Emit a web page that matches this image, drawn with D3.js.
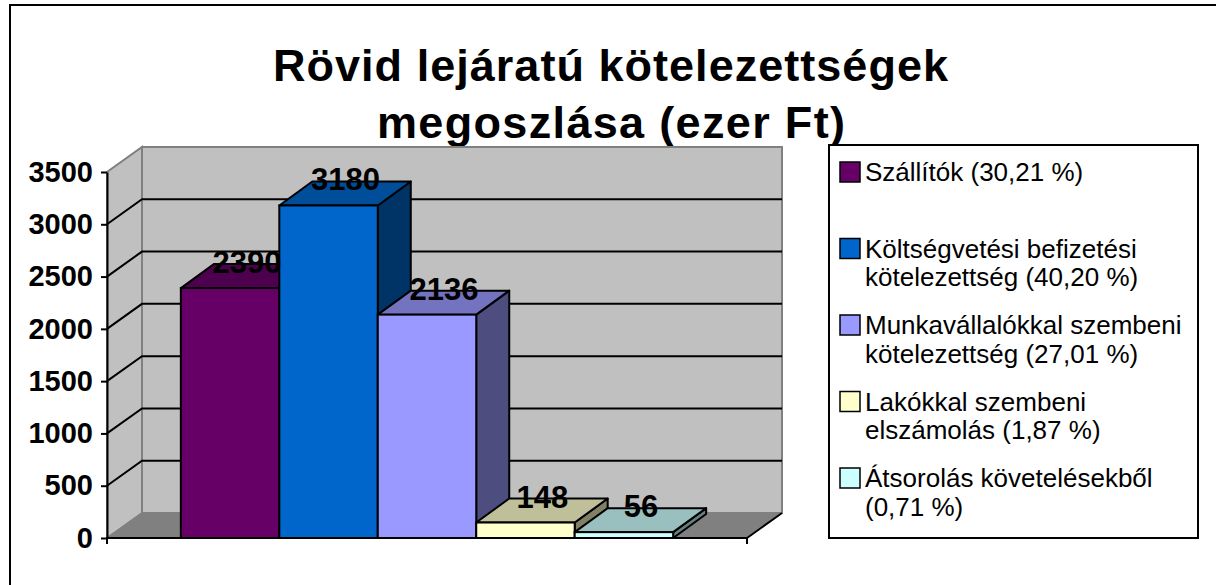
<!DOCTYPE html>
<html>
<head>
<meta charset="utf-8">
<script src="https://cdn.jsdelivr.net/npm/d3@7"></script>
<style>
  body { margin: 0; background: #fff; }
  text { font-family: "Liberation Sans", Arial, sans-serif; }
</style>
</head>
<body>
<div id="chart"></div>
<script>
// chart data
const categories = [
  "Szállítók",
  "Költségvetési befizetési kötelezettség",
  "Munkavállalókkal szembeni kötelezettség",
  "Lakókkal szembeni elszámolás",
  "Átsorolás követelésekből",
];
const values = [2390, 3180, 2136, 148, 56];
const percents = ["30,21", "40,20", "27,01", "1,87", "0,71"];
const colors = ["#660066", "#0066cc", "#9999ff", "#ffffcc", "#ccffff"];
const yTicks = [0, 500, 1000, 1500, 2000, 2500, 3000, 3500];
const titleLines = ["Rövid lejáratú kötelezettségek", "megoszlása (ezer Ft)"];

const W = 1216, H = 585;

// 3d depth offsets
const wallDx = 35, wallDy = 25;
const barDx = 33, barDy = 24;

const svg = d3
  .select("#chart")
  .append("svg")
  .attr("width", W)
  .attr("height", H);

// outer frame (cut off at right / bottom like the original)
svg.append("rect")
  .attr("x", 10).attr("y", 5)
  .attr("width", W + 20).attr("height", H + 20)
  .attr("fill", "#fff")
  .attr("stroke", "#000")
  .attr("stroke-width", 2);

// title
const titleSpans = [
  { x: 273, y: 81, len: 675 },
  { x: 377, y: 138, len: 468 },
];
svg.append("g")
  .selectAll("text")
  .data(titleLines)
  .enter()
  .append("text")
  .attr("x", (d, i) => titleSpans[i].x)
  .attr("y", (d, i) => titleSpans[i].y)
  .attr("textLength", (d, i) => titleSpans[i].len)
  .attr("lengthAdjust", "spacing")
  .style("font-size", "45px")
  .style("font-weight", "bold")
  .text((d) => d);

// scales
let x = d3.scaleBand()
  .domain(categories)
  .range([107, 747])
  .paddingInner(0)
  .paddingOuter(0.75);
let y = d3.scaleLinear().domain([0, 3500]).range([538, 172]);

const x0 = x.range()[0], x1 = x.range()[1];
const yb = y(0), yt = y(3500);

const plot = svg.append("g");

// side wall
plot.append("polygon")
  .attr("points", [[x0, yb], [x0 + wallDx, yb - wallDy], [x0 + wallDx, yt - wallDy], [x0, yt]].join(" "))
  .attr("fill", "#c0c0c0")
  .attr("stroke", "#808080")
  .attr("stroke-width", 2);

// back wall
plot.append("rect")
  .attr("x", x0 + wallDx)
  .attr("y", yt - wallDy)
  .attr("width", x1 - x0)
  .attr("height", yb - yt)
  .attr("fill", "#c0c0c0")
  .attr("stroke", "#808080")
  .attr("stroke-width", 2);

// floor
plot.append("polygon")
  .attr("points", [[x0, yb], [x1, yb], [x1 + wallDx, yb - wallDy], [x0 + wallDx, yb - wallDy]].join(" "))
  .attr("fill", "#808080")
  .attr("stroke", "#808080")
  .attr("stroke-width", 1);
plot.append("line")
  .attr("x1", x1).attr("y1", yb)
  .attr("x2", x1 + wallDx).attr("y2", yb - wallDy)
  .attr("stroke", "#000").attr("stroke-width", 2);

// gridlines on side + back wall
plot.append("g")
  .selectAll("path")
  .data(yTicks.filter((t) => t > 0 && t < 3500))
  .enter()
  .append("path")
  .attr("d", (t) => `M${x0},${y(t)}L${x0 + wallDx},${y(t) - wallDy}H${x1 + wallDx}`)
  .attr("fill", "none")
  .attr("stroke", "#000")
  .attr("stroke-width", 2);

// y axis
const yAxis = plot.append("g")
  .attr("transform", `translate(${x0},0)`)
  .call(
    d3.axisLeft(y)
      .tickValues(yTicks)
      .tickFormat(d3.format("d"))
      .tickSize(6)
      .tickSizeOuter(0)
      .tickPadding(8)
  );
yAxis.select(".domain").attr("stroke", "#000").attr("stroke-width", 2);
yAxis.selectAll(".tick line").attr("stroke", "#000").attr("stroke-width", 2);
yAxis.selectAll(".tick text")
  .attr("fill", "#000")
  .style("font-size", "29px")
  .style("font-weight", "bold")
  .style("font-family", '"Liberation Sans", Arial, sans-serif');

// x axis line with end ticks
plot.append("path")
  .attr("d", `M${x0},${yb + 6}V${yb}H${x1}V${yb + 6}`)
  .attr("fill", "none")
  .attr("stroke", "#000")
  .attr("stroke-width", 2);

function shade(c, k) {
  const r = d3.rgb(c);
  return d3.rgb(r.r * k, r.g * k, r.b * k).formatHex();
}

const data = categories.map((c, i) => ({ name: c, value: values[i], color: colors[i], pct: percents[i] }));

// bars, drawn left to right so later fronts cover earlier sides
const bars = plot.append("g")
  .selectAll("g")
  .data(data)
  .enter()
  .append("g");

bars.append("polygon") // side
  .attr("points", (d) => {
    const bx = x(d.name) + x.bandwidth(), top = y(d.value);
    return [[bx, top], [bx + barDx, top - barDy], [bx + barDx, yb - barDy], [bx, yb]].join(" ");
  })
  .attr("fill", (d) => shade(d.color, 0.5))
  .attr("stroke", "#000")
  .attr("stroke-width", 2)
  .attr("stroke-linejoin", "round");

bars.append("polygon") // top
  .attr("points", (d) => {
    const bx = x(d.name), w = x.bandwidth(), top = y(d.value);
    return [[bx, top], [bx + barDx, top - barDy], [bx + w + barDx, top - barDy], [bx + w, top]].join(" ");
  })
  .attr("fill", (d) => shade(d.color, 0.75))
  .attr("stroke", "#000")
  .attr("stroke-width", 2)
  .attr("stroke-linejoin", "round");

bars.append("rect") // front
  .attr("x", (d) => x(d.name))
  .attr("y", (d) => y(d.value))
  .attr("width", x.bandwidth())
  .attr("height", (d) => yb - y(d.value))
  .attr("fill", (d) => d.color)
  .attr("stroke", "#000")
  .attr("stroke-width", 2);

// value labels
plot.append("g")
  .selectAll("text")
  .data(data)
  .enter()
  .append("text")
  .attr("x", (d) => x(d.name) + x.bandwidth() / 2 + 17)
  .attr("y", (d) => y(d.value) - 15)
  .attr("text-anchor", "middle")
  .style("font-size", "31px")
  .style("font-weight", "bold")
  .text((d) => d.value);

// legend
const legend = svg.append("g");
legend.append("rect")
  .attr("x", 829).attr("y", 145)
  .attr("width", 369).attr("height", 393)
  .attr("fill", "#fff")
  .attr("stroke", "#000")
  .attr("stroke-width", 2);

// wrap a label into lines no wider than maxW
function wrapLines(str, maxW, size) {
  const probe = svg.append("text").style("font-size", size + "px");
  const words = str.split(" ");
  const lines = [];
  let line = "";
  words.forEach((w) => {
    const test = line ? line + " " + w : w;
    probe.text(test);
    if (line && probe.node().getComputedTextLength() > maxW) {
      lines.push(line);
      line = w;
    } else {
      line = test;
    }
  });
  lines.push(line);
  probe.remove();
  return lines;
}

const items = legend.selectAll("g.item")
  .data(data)
  .enter()
  .append("g")
  .attr("class", "item")
  .attr("transform", (d, i) => `translate(840,${172 + i * 76.5})`);

items.append("rect")
  .attr("x", 0).attr("y", -10)
  .attr("width", 20).attr("height", 20)
  .attr("fill", (d) => d.color)
  .attr("stroke", "#000")
  .attr("stroke-width", 1.5);

items.each(function (d) {
  const lines = wrapLines(`${d.name} (${d.pct} %)`, 330, 26);
  d3.select(this)
    .append("text")
    .style("font-size", "26px")
    .selectAll("tspan")
    .data(lines)
    .enter()
    .append("tspan")
    .attr("x", 25)
    .attr("y", (l, j) => 9 + j * 28.5)
    .text((l) => l);
});
</script>
</body>
</html>
